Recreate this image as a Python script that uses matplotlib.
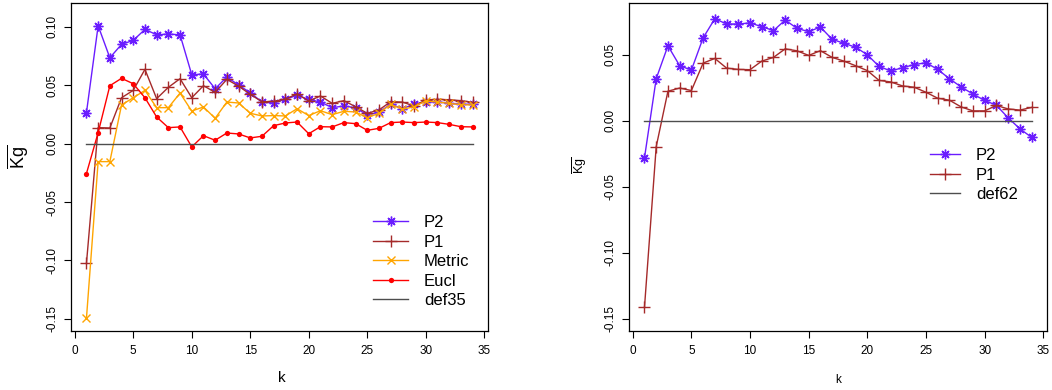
import matplotlib
matplotlib.use("Agg")
import matplotlib.pyplot as plt

plt.rcParams['font.family'] = ['Liberation Sans', 'DejaVu Sans']
plt.rcParams['mathtext.fontset'] = 'custom'
plt.rcParams['mathtext.rm'] = 'Liberation Sans'
plt.rcParams['mathtext.it'] = 'Liberation Sans:italic'
plt.rcParams['axes.unicode_minus'] = False

# ---------------- data ----------------
k = list(range(1, 35))

left_p2 = [0.0265, 0.1009, 0.0735, 0.0850, 0.0884, 0.0978, 0.0932, 0.0938, 0.0932, 0.0590,
           0.0596, 0.0470, 0.0570, 0.0502, 0.0436, 0.0356, 0.0348, 0.0379, 0.0414, 0.0379,
           0.0356, 0.0308, 0.0322, 0.0308, 0.0245, 0.0268, 0.0339, 0.0299, 0.0339, 0.0359,
           0.0359, 0.0345, 0.0337, 0.0337]
left_p1 = [-0.1026, 0.0137, 0.0134, 0.0393, 0.0456, 0.0636, 0.0385, 0.0482, 0.0556, 0.0393,
           0.0496, 0.0439, 0.0550, 0.0493, 0.0422, 0.0359, 0.0362, 0.0382, 0.0425, 0.0365,
           0.0408, 0.0345, 0.0368, 0.0316, 0.0260, 0.0288, 0.0359, 0.0356, 0.0322, 0.0373,
           0.0379, 0.0376, 0.0368, 0.0354]
left_metric = [-0.1496, -0.0154, -0.0154, 0.0331, 0.0393, 0.0456, 0.0308, 0.0308, 0.0433, 0.0279,
               0.0314, 0.0217, 0.0356, 0.0348, 0.0260, 0.0237, 0.0240, 0.0237, 0.0299, 0.0240,
               0.0282, 0.0248, 0.0277, 0.0271, 0.0222, 0.0260, 0.0337, 0.0294, 0.0316, 0.0365,
               0.0356, 0.0345, 0.0333, 0.0331]
left_eucl = [-0.0256, 0.0094, 0.0496, 0.0559, 0.0513, 0.0393, 0.0228, 0.0137, 0.0143, -0.0028,
             0.0068, 0.0029, 0.0091, 0.0083, 0.0049, 0.0063, 0.0154, 0.0177, 0.0185, 0.0085,
             0.0145, 0.0143, 0.0180, 0.0171, 0.0114, 0.0131, 0.0180, 0.0185, 0.0180, 0.0185,
             0.0180, 0.0165, 0.0145, 0.0143]
left_def = [0.0] * 34

right_p2 = [-0.0281, 0.0319, 0.0568, 0.0417, 0.0384, 0.0628, 0.0773, 0.0733, 0.0733, 0.0741,
            0.0713, 0.0683, 0.0763, 0.0700, 0.0675, 0.0710, 0.0617, 0.0587, 0.0557, 0.0500,
            0.0412, 0.0377, 0.0402, 0.0425, 0.0440, 0.0389, 0.0319, 0.0256, 0.0203, 0.0154,
            0.0118, 0.0023, -0.0060, -0.0125]
right_p1 = [-0.1413, -0.0196, 0.0224, 0.0248, 0.0229, 0.0437, 0.0472, 0.0399, 0.0389, 0.0387,
            0.0452, 0.0480, 0.0545, 0.0530, 0.0495, 0.0531, 0.0480, 0.0452, 0.0417, 0.0380,
            0.0306, 0.0294, 0.0264, 0.0254, 0.0216, 0.0171, 0.0156, 0.0105, 0.0075, 0.0075,
            0.0116, 0.0090, 0.0081, 0.0101]
right_def = [0.0] * 34

x_ticks = [0, 5, 10, 15, 20, 25, 30, 35]
left_yticks = [-0.15, -0.10, -0.05, 0.00, 0.05, 0.10]
left_ylabels = ["-0.15", "-0.10", "-0.05", "0.00", "0.05", "0.10"]
right_yticks = [-0.15, -0.10, -0.05, 0.00, 0.05]
right_ylabels = ["-0.15", "-0.10", "-0.05", "0.00", "0.05"]

left_names = ["P2", "P1", "Metric", "Eucl", "def35"]
right_names = ["P2", "P1", "def62"]

# ---------------- style ----------------
C_P2 = '#6A1CFF'
C_P1 = '#A52A2A'
C_MET = '#FFA500'
C_EU = '#FF0000'
C_DEF = '#4D4D4D'
STAR = (8, 2, 0)

W, H = 1052, 390
fig = plt.figure(figsize=(W / 100, H / 100), dpi=100)


def px_ax(x0, x1, y0, y1):
    return fig.add_axes([x0 / W, 1 - y1 / H, (x1 - x0) / W, (y1 - y0) / H])


def style_axes(ax, yticks, ylabels, ylim):
    ax.set_xlim(-0.32, 35.32)
    ax.set_ylim(*ylim)
    ax.set_xticks(x_ticks)
    ax.set_xticklabels([str(v) for v in x_ticks])
    ax.set_yticks(yticks)
    ax.set_yticklabels(ylabels, rotation=90, va='center')
    ax.tick_params(direction='out', length=5, width=0.8, labelsize=8.5, colors='black', pad=5)
    ax.tick_params(axis='y', pad=4)
    for s in ax.spines.values():
        s.set_linewidth(0.9)
        s.set_color('black')


LEG = dict(frameon=False, fontsize=12, handletextpad=0.95, labelspacing=0.27,
           borderpad=0, borderaxespad=0, numpoints=1, loc='upper left')

lw = 1.0
ax1 = px_ax(71, 488, 3, 331)
ax1.plot(k, left_p2, color=C_P2, lw=lw, marker=STAR, ms=7, mew=1.0, label=left_names[0])
ax1.plot(k, left_p1, color=C_P1, lw=lw, marker='+', ms=9, mew=1.0, label=left_names[1])
ax1.plot(k, left_metric, color=C_MET, lw=lw, marker='x', ms=6, mew=1.0, label=left_names[2])
ax1.plot(k, left_eucl, color=C_EU, lw=lw, marker='o', ms=3.8, mew=0, label=left_names[3])
ax1.plot(k, left_def, color=C_DEF, lw=lw, label=left_names[4])
style_axes(ax1, left_yticks, left_ylabels, (-0.1604, 0.1204))
ax1.legend(bbox_to_anchor=(373 / W, 1 - 215 / H), bbox_transform=fig.transFigure,
           handlelength=2.1, **LEG)

ax2 = px_ax(629, 1047, 3, 331)
ax2.plot(k, right_p2, color=C_P2, lw=lw, marker=STAR, ms=7, mew=1.0, label=right_names[0])
ax2.plot(k, right_p1, color=C_P1, lw=lw, marker='+', ms=9, mew=1.0, label=right_names[1])
ax2.plot(k, right_def, color=C_DEF, lw=lw, label=right_names[2])
style_axes(ax2, right_yticks, right_ylabels, (-0.1592, 0.0892))
ax2.legend(bbox_to_anchor=(930 / W, 1 - 148 / H), bbox_transform=fig.transFigure,
           handlelength=1.8, **LEG)

fig.text(18 / W, 1 - 157 / H, r'$\overline{\mathrm{Kg}}$', rotation=90, fontsize=13,
         ha='center', va='center')
fig.text(580 / W, 1 - 165 / H, r'$\overline{\mathrm{Kg}}$', rotation=90, fontsize=9,
         ha='center', va='center')
fig.text(282 / W, 1 - 378 / H, 'k', fontsize=11, ha='center', va='center')
fig.text(838 / W, 1 - 380 / H, 'k', fontsize=8.5, ha='center', va='center')

fig.savefig('out.png', dpi=100)
